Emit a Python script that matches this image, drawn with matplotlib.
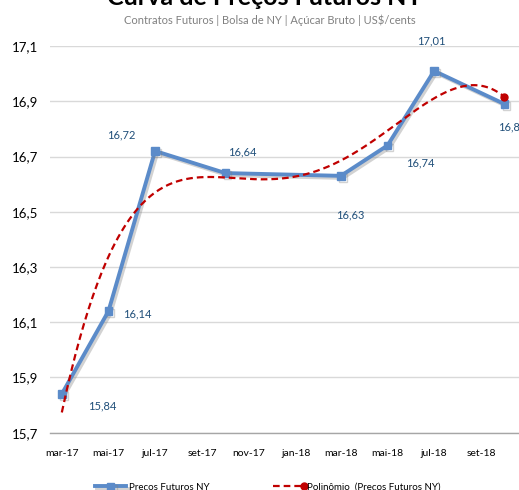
import numpy as np
import pandas as pd
import matplotlib
matplotlib.use("Agg")
import matplotlib.pyplot as plt
import matplotlib.dates as mdates
import matplotlib.patheffects as pe
from matplotlib.ticker import FuncFormatter
from matplotlib.legend_handler import HandlerLine2D

# dados
datas = ["2017-03-01", "2017-05-01", "2017-07-01", "2017-10-01",
         "2018-03-01", "2018-05-01", "2018-07-01", "2018-10-01"]
precos = [15.84, 16.14, 16.72, 16.64, 16.63, 16.74, 17.01, 16.89]
rotulos = ["15,84", "16,14", "16,72", "16,64", "16,63", "16,74", "17,01", "16,89"]

meses_ticks = ["2017-03-01", "2017-05-01", "2017-07-01", "2017-09-01", "2017-11-01",
               "2018-01-01", "2018-03-01", "2018-05-01", "2018-07-01", "2018-09-01"]
nomes_ticks = ["mar-17", "mai-17", "jul-17", "set-17", "nov-17",
               "jan-18", "mar-18", "mai-18", "jul-18", "set-18"]
y_ticks = [15.7, 15.9, 16.1, 16.3, 16.5, 16.7, 16.9, 17.1]

# deslocamento (pixels) de cada rotulo em relacao ao ponto
desloc = [(40, -12), (29, -3), (-34, 16), (17, 21), (9, -39), (33, -17), (-3, 30), (-6, -23)]
alinh = ["center", "center", "center", "center", "center", "center", "center", "left"]

plt.rcParams["font.family"] = ["Lato", "DejaVu Sans"]

azul = "#5B8BC9"
vermelho = "#C00000"
azul_rotulo = "#1F4E79"

x = mdates.date2num(pd.to_datetime(datas))

fig, ax = plt.subplots(figsize=(5.19, 4.9), dpi=100)
fig.subplots_adjust(left=0.097, right=1.0, top=0.906, bottom=0.117)

linha, = ax.plot(x, precos, color=azul, marker="s", markersize=5.5, lw=2.8,
                 label="Preços Futuros NY", zorder=3,
                 path_effects=[pe.SimpleLineShadow(offset=(1.5, -1.5), shadow_color="gray", alpha=0.35),
                               pe.Normal()])

# linha de tendencia polinomial (ordem 4), como a do Excel
coef = np.polyfit(x - x[0], precos, 4)
xx = np.linspace(x[0], x[-1], 300)
tend, = ax.plot(xx, np.polyval(coef, xx - x[0]), color=vermelho, ls=(0, (3, 1.8)), lw=1.6,
                marker="o", markersize=5, markevery=[len(xx) - 1],
                label="Polinômio  (Preços Futuros NY)", zorder=4)

for xi, yi, txt, d, ha in zip(x, precos, rotulos, desloc, alinh):
    ax.annotate(txt, (xi, yi), xytext=d, textcoords="offset pixels", ha=ha, va="center",
                color=azul_rotulo, fontsize=8)

ax.set_ylim(15.7, 17.1)
ax.set_yticks(y_ticks)
ax.yaxis.set_major_formatter(FuncFormatter(lambda v, p: ("%.1f" % v).replace(".", ",")))
ax.set_xlim(mdates.date2num(pd.Timestamp("2017-02-14")), mdates.date2num(pd.Timestamp("2018-10-20")))
ax.set_xticks(mdates.date2num(pd.to_datetime(meses_ticks)))
ax.set_xticklabels(nomes_ticks)
ax.tick_params(axis="x", length=0, pad=12, labelsize=7.5)
ax.tick_params(axis="y", length=0, pad=9, labelsize=9.5)

ax.grid(axis="y", color="#D9D9D9", lw=1)
ax.set_axisbelow(True)
for lado in ["left", "right", "top"]:
    ax.spines[lado].set_visible(False)
ax.spines["bottom"].set_color("#A6A6A6")
ax.spines["bottom"].set_linewidth(1)

fig.text(0.51, 0.990, "Curva de Preços Futuros NY", ha="center", va="baseline",
         fontsize=18, fontweight="bold")
fig.text(0.52, 0.958, "Contratos Futuros | Bolsa de NY | Açúcar Bruto | US$/cents", ha="center",
         va="center", fontsize=8, color="#808080")


class PontoNoFim(HandlerLine2D):
    # marcador no fim da linha da legenda, como no Excel
    def create_artists(self, legend, orig_handle, xdescent, ydescent, width, height, fontsize, trans):
        artistas = super().create_artists(legend, orig_handle, xdescent, ydescent, width, height,
                                          fontsize, trans)
        for a in artistas:
            if a.get_marker() not in ("", "None", None):
                a.set_markevery([len(a.get_xdata()) - 1])
        return artistas


fig.legend(handles=[linha, tend], loc="center", bbox_to_anchor=(0.516, 0.006), ncol=2,
           frameon=False, fontsize=7, handlelength=3.2, columnspacing=6.5, handletextpad=0.3,
           handler_map={tend: PontoNoFim()})

fig.savefig("out.png")
